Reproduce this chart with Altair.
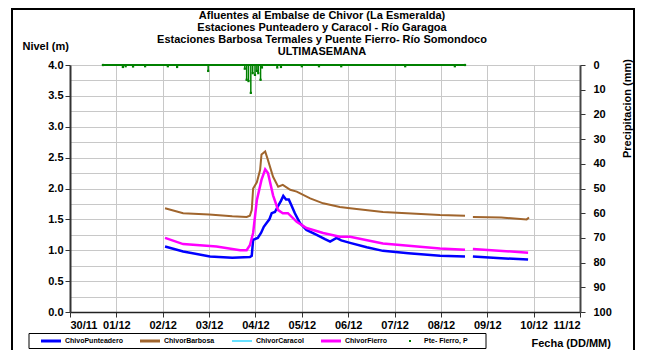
import json
import altair as alt
import pandas as pd

# ---------------- data ----------------
fechas = ["30/11", "01/12", "02/12", "03/12", "04/12", "05/12", "06/12",
          "07/12", "08/12", "09/12", "10/12", "11/12"]
dias_ticks = [0, 1, 2, 3, 4, 5, 6, 7, 8, 9, 10, 11]
nivel_ticks = [0, 0.25, 0.5, 0.75, 1.0, 1.25, 1.5, 1.75, 2.0, 2.25, 2.5, 2.75,
               3.0, 3.25, 3.5, 3.75, 4.0]
precip_ticks = [0, 10, 20, 30, 40, 50, 60, 70, 80, 90, 100]

series_nombres = ["ChivoPunteadero", "ChivorBarbosa", "ChivorCaracol",
                  "ChivorFierro", "Pte- Fierro, P"]
series_colores = ["#0000FF", "#A0652D", "#00CCFF", "#FF00FF", "#008000"]

titulo = ["Afluentes al Embalse de Chivor (La Esmeralda)",
          "Estaciones Punteadero y Caracol - Río Garagoa",
          "Estaciones Barbosa Termales y Puente Fierro- Río Somondoco",
          "ULTIMASEMANA"]

# days since 30/11
punteadero_dia = [2.05, 2.44, 3.02, 3.5, 3.88, 3.92, 3.95, 4.05, 4.12, 4.18, 4.24,
                  4.30, 4.35, 4.42, 4.49, 4.55, 4.60, 4.66, 4.72, 4.78, 4.85, 4.96,
                  5.10, 5.32, 5.50, 5.61, 5.75, 5.85, 6.04, 6.40, 6.75, 7.30, 7.98,
                  8.52, 8.69, 9.30, 9.88]
punteadero_nivel = [1.06, 0.98, 0.90, 0.88, 0.89, 0.91, 1.17, 1.20, 1.28, 1.38, 1.44,
                    1.50, 1.60, 1.62, 1.72, 1.80, 1.88, 1.82, 1.82, 1.72, 1.60, 1.44,
                    1.33, 1.25, 1.18, 1.14, 1.20, 1.16, 1.12, 1.05, 0.99, 0.95, 0.91,
                    0.90, 0.90, 0.87, 0.85]

barbosa_dia = [2.05, 2.44, 3.0, 3.5, 3.81, 3.88, 3.92, 3.95, 4.03, 4.10, 4.13, 4.21,
               4.27, 4.38, 4.49, 4.59, 4.75, 4.89, 5.18, 5.46, 5.82, 6.04, 6.75,
               7.98, 8.52, 8.69, 9.30, 9.85, 9.90]
barbosa_nivel = [1.68, 1.60, 1.58, 1.55, 1.54, 1.56, 1.65, 2.00, 2.10, 2.30, 2.55, 2.60,
                 2.46, 2.19, 2.03, 2.06, 1.98, 1.95, 1.84, 1.76, 1.70, 1.68, 1.62,
                 1.57, 1.56, 1.54, 1.53, 1.50, 1.53]

fierro_dia = [2.05, 2.44, 3.16, 3.67, 3.81, 3.88, 3.95, 4.03, 4.13, 4.21, 4.27, 4.38,
              4.49, 4.59, 4.70, 4.89, 5.10, 5.46, 5.82, 6.04, 6.75, 7.98, 8.52,
              8.69, 9.88]
fierro_nivel = [1.20, 1.10, 1.06, 1.00, 1.00, 1.08, 1.28, 1.81, 2.14, 2.31, 2.25, 1.89,
                1.65, 1.60, 1.60, 1.46, 1.36, 1.28, 1.22, 1.22, 1.11, 1.03, 1.01,
                1.02, 0.96]

corte_registro = 8.6  # gap in the level records

precip_dia = [0.71, 1.14, 1.20, 1.36, 1.62, 2.11, 2.31, 2.98, 3.77, 3.81, 3.85, 3.90,
              3.94, 3.99, 4.03, 4.06, 4.11, 4.14, 4.47, 4.55, 5.00, 5.37, 5.85,
              7.23, 8.30, 8.52]
precip_mm = [0, 0.8, 0.5, 0.6, 0.5, 0.5, 0.8, 2.4, 1.5, 6.0, 6.5, 11.3,
             3.3, 4.0, 2.4, 3.3, 6.0, 1.0, 1.0, 0.8, 0.5, 0.5, 0.5,
             0.5, 0.5, 0]

# ---------------- tables ----------------
color_de = dict(zip(series_nombres, series_colores))
grosor_de = {"ChivoPunteadero": 2.5, "ChivorBarbosa": 2.0, "ChivorFierro": 2.5}

filas = []
for nombre, dias, niveles in [("ChivoPunteadero", punteadero_dia, punteadero_nivel),
                              ("ChivorBarbosa", barbosa_dia, barbosa_nivel),
                              ("ChivorFierro", fierro_dia, fierro_nivel)]:
    for d, n in zip(dias, niveles):
        filas.append({"serie": nombre, "dia": d, "nivel": n,
                      "tramo": 1 if d < corte_registro else 2,
                      "col": color_de[nombre], "grosor": grosor_de[nombre]})
df_niveles = pd.DataFrame(filas)
df_leyenda = pd.DataFrame({"serie": series_nombres,
                           "dia": [-5] * len(series_nombres)})
df_precip = pd.DataFrame({"dia": precip_dia, "mm": precip_mm})
df_titulo = pd.DataFrame({"texto": titulo, "linea": list(range(len(titulo)))})

FONT = "Liberation Sans"

x_scale = alt.Scale(domain=[0, 11], nice=False, zero=False)
color_scale = alt.Scale(domain=series_nombres, range=series_colores)
shape_scale = alt.Scale(domain=series_nombres, range=[
    "M-1.67,-0.25L1.67,-0.25L1.67,0.25L-1.67,0.25Z",
    "M-1.67,-0.25L1.67,-0.25L1.67,0.25L-1.67,0.25Z",
    "M-1.67,-0.1L1.67,-0.1L1.67,0.1L-1.67,0.1Z",
    "M-1.67,-0.25L1.67,-0.25L1.67,0.25L-1.67,0.25Z",
    "M-0.17,-0.17L0.17,-0.17L0.17,0.17L-0.17,0.17Z",
])

quarter = "round(datum.value*4) % 2 == 1"

ax_x = alt.Axis(values=dias_ticks, grid=True, gridColor="#c8c8c8", gridWidth=1,
                labelExpr=json.dumps(fechas) + "[round(datum.value)]",
                labelFont=FONT, labelFontSize=11, labelFontWeight="bold",
                labelColor="black", labelPadding=2, labelOverlap=False,
                tickSize=5, tickColor="#333333", domainColor="#222222", domainWidth=1.5,
                title="Fecha (DD/MM)", titleFont=FONT, titleFontSize=11,
                titleFontWeight="bold", titleColor="black", titleAnchor="start",
                titleX=461, titleY=31, titleAlign="left", titleBaseline="middle")

ax_y = alt.Axis(values=nivel_ticks, grid=True, gridColor="#c8c8c8", gridWidth=1,
                labelExpr=quarter + " ? '' : format(datum.value, '.1f')",
                labelFont=FONT, labelFontSize=11, labelFontWeight="bold",
                labelColor="black", labelPadding=2, labelOverlap=False,
                tickSize=5, tickColor="#333333",
                tickOpacity={"condition": {"test": quarter, "value": 0}, "value": 1},
                domainColor="#333333", domainWidth=2,
                title="Nivel (m)", titleFont=FONT, titleFontSize=11,
                titleFontWeight="bold", titleColor="black", titleAngle=0,
                titleX=-48, titleY=-19, titleAlign="left", titleBaseline="middle")

ax_p = alt.Axis(orient="right", values=precip_ticks, grid=False,
                labelFont=FONT, labelFontSize=11, labelFontWeight="bold",
                labelColor="black", labelPadding=8, labelOverlap=False,
                tickSize=5, tickColor="#333333", domainColor="#444444", domainWidth=2,
                title="Precipitacion (mm)", titleFont=FONT, titleFontSize=11,
                titleFontWeight="bold", titleColor="black", titleAngle=270,
                titleX=47, titleY=43, titleAlign="center", titleBaseline="middle")

leyenda = alt.Legend(title=None, orient="none", legendX=-25, legendY=270,
                     direction="horizontal", symbolSize=144, symbolStrokeWidth=0,
                     labelFont=FONT, labelFontSize=7, labelFontWeight="bold",
                     labelColor="black", labelOffset=8, columnPadding=16,
                     padding=0)

lineas = alt.Chart(df_niveles).mark_line(clip=True).encode(
    x=alt.X("dia:Q", scale=x_scale, axis=ax_x),
    y=alt.Y("nivel:Q", scale=alt.Scale(domain=[0, 4], nice=False), axis=ax_y),
    color=alt.Color("col:N", scale=None),
    strokeWidth=alt.StrokeWidth("grosor:Q", scale=None),
    detail=["serie:N", "tramo:N"],
)

puntos_leyenda = alt.Chart(df_leyenda).mark_point(filled=True, opacity=1, clip=True).encode(
    x=alt.X("dia:Q", scale=x_scale, axis=ax_x),
    color=alt.Color("serie:N", scale=color_scale, legend=leyenda),
    shape=alt.Shape("serie:N", scale=shape_scale, legend=leyenda),
)

niveles = alt.layer(lineas, puntos_leyenda)

p_scale = alt.Scale(domain=[0, 100], reverse=True, nice=False, zero=True)
picos = alt.Chart(df_precip).mark_rule(color="#008000", strokeWidth=1.5).encode(
    x=alt.X("dia:Q", scale=x_scale, axis=ax_x),
    y=alt.Y("mm:Q", scale=p_scale, axis=ax_p),
    y2=alt.datum(0),
)
marcas = alt.Chart(df_precip).mark_square(color="#008000", size=5, opacity=1).encode(
    x=alt.X("dia:Q", scale=x_scale, axis=ax_x),
    y=alt.Y("mm:Q", scale=p_scale, axis=ax_p),
)
base = alt.Chart(df_precip).mark_rule(color="#008000", strokeWidth=2).encode(
    x=alt.X("min(dia):Q", scale=x_scale, axis=ax_x),
    x2="max(dia):Q",
    y=alt.Y(datum=0, scale=p_scale, axis=ax_p),
)
precip = alt.layer(picos, base, marcas)

titulo_txt = alt.Chart(df_titulo).mark_text(
    font=FONT, fontSize=11, fontWeight="bold", color="black",
    align="center", baseline="middle").encode(
    text="texto:N",
    x=alt.value(252),
    y=alt.Y("linea:Q", scale=alt.Scale(domain=[0, 3], range=[-49, -13]), axis=None),
)

uno = pd.DataFrame({"k": [0]})
marco = alt.Chart(uno).mark_rect(
    filled=False, color="black", strokeWidth=2, clip=False).encode(
    x=alt.value(-58), x2=alt.value(564), y=alt.value(-56), y2=alt.value(400))
caja_leyenda = alt.Chart(uno).mark_rect(
    filled=False, color="black", strokeWidth=1, clip=False).encode(
    x=alt.value(-41), x2=alt.value(416), y=alt.value(268.5), y2=alt.value(283.5))

chart = alt.layer(niveles, precip, titulo_txt, marco, caja_leyenda).resolve_scale(
    y="independent").properties(
    width=510, height=247,
    autosize=alt.AutoSizeParams(type="none"),
    padding={"left": 62, "top": 57, "right": 57, "bottom": 38},
).configure_view(strokeWidth=0)

chart.save("out.html", embed_options={"renderer": "svg", "actions": False})
